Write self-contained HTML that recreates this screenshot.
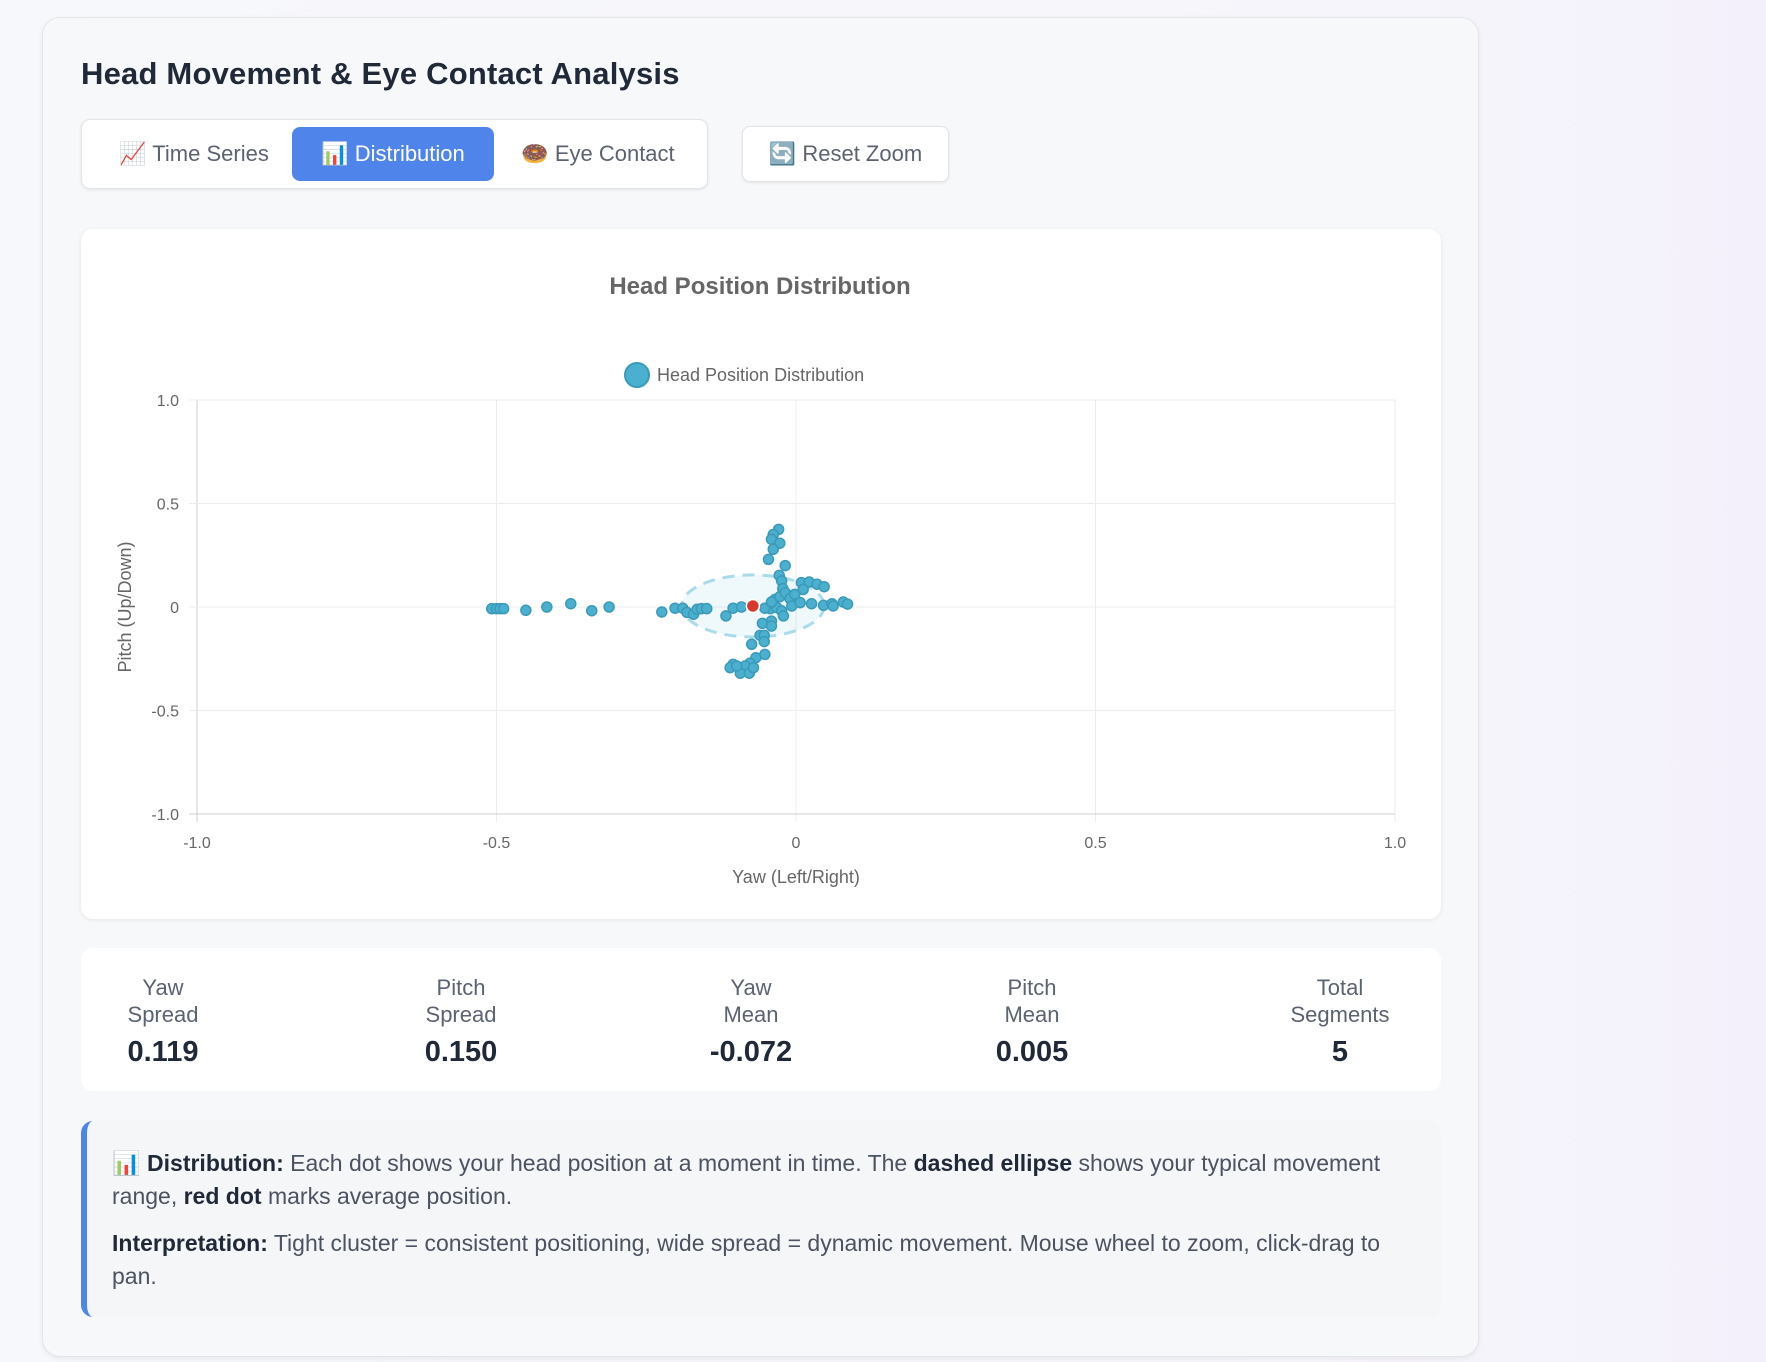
<!DOCTYPE html>
<html><head><meta charset="utf-8">
<style>
*{box-sizing:border-box;margin:0;padding:0}
body{width:1766px;height:1362px;background:linear-gradient(90deg,#f7f8fb 0%,#f6f5fb 80%,#f3f0fb 100%);font-family:"Liberation Sans","Noto Sans CJK SC",sans-serif;position:relative;overflow:hidden}
.abs{position:absolute}
#card{left:42px;top:17px;width:1437px;height:1340px;background:#f7f8fa;border:1px solid #e3e5e9;border-radius:18px;box-shadow:0 2px 6px rgba(0,0,0,.06)}
#title{left:81px;top:56px;font-size:31px;font-weight:bold;color:#1f2937;letter-spacing:0.2px}
#tabs{left:81px;top:119px;width:627px;height:70px;background:#fff;border:1px solid #e2e4e8;border-radius:9px;box-shadow:0 1px 3px rgba(0,0,0,.08)}
.tab{position:absolute;top:7px;height:54px;line-height:54px;font-size:22px;color:#5b6270;text-align:center;border-radius:8px}
#reset{left:742px;top:126px;width:207px;height:56px;background:#fff;border:1px solid #e2e4e8;border-radius:8px;box-shadow:0 1px 3px rgba(0,0,0,.08);line-height:54px;text-align:center;font-size:22px;color:#5b6270}
#chartcard{left:81px;top:229px;width:1360px;height:690px;background:#fff;border-radius:12px;box-shadow:0 1px 4px rgba(0,0,0,.08)}
#stats{left:81px;top:948px;width:1360px;height:143px;background:#fff;border-radius:12px}
.st{position:absolute;top:26px;width:200px;margin-left:-100px;text-align:center}
.sl{font-size:22px;color:#5b6270;line-height:27px}
.sv{font-size:29px;font-weight:bold;color:#1f2937;margin-top:8px}
#info{left:81px;top:1121px;width:1360px;height:196px;background:#f5f6f8;border-left:6px solid #4f84ea;border-radius:12px;padding:26px 24px 0 25px;font-size:23px;color:#4b5260;line-height:33px}
#info b{color:#1f2937}
</style></head><body>
<div id="card" class="abs"></div>
<div id="title" class="abs">Head Movement &amp; Eye Contact Analysis</div>
<div id="tabs" class="abs">
 <div class="tab" style="left:14px;width:196px">📈 Time Series</div>
 <div class="tab" style="left:210px;width:202px;background:#4f84ea;color:#fff">📊 Distribution</div>
 <div class="tab" style="left:418px;width:196px">🍩 Eye Contact</div>
</div>
<div id="reset" class="abs">🔄 Reset Zoom</div>
<div id="chartcard" class="abs"></div>
<svg class="abs" style="left:0;top:0" width="1766" height="1362" id="chart" font-family="Liberation Sans, sans-serif"></svg>
<div id="stats" class="abs">
 <div class="st" style="left:82px"><div class="sl">Yaw<br>Spread</div><div class="sv">0.119</div></div>
 <div class="st" style="left:380px"><div class="sl">Pitch<br>Spread</div><div class="sv">0.150</div></div>
 <div class="st" style="left:670px"><div class="sl">Yaw<br>Mean</div><div class="sv">-0.072</div></div>
 <div class="st" style="left:951px"><div class="sl">Pitch<br>Mean</div><div class="sv">0.005</div></div>
 <div class="st" style="left:1259px"><div class="sl">Total<br>Segments</div><div class="sv">5</div></div>
</div>
<div id="info" class="abs">
 <p style="margin-bottom:14px">📊 <b>Distribution:</b> Each dot shows your head position at a moment in time. The <b>dashed ellipse</b> shows your typical movement range, <b>red dot</b> marks average position.</p>
 <p><b>Interpretation:</b> Tight cluster = consistent positioning, wide spread = dynamic movement. Mouse wheel to zoom, click-drag to pan.</p>
</div>
<script>
const yawValues=[-0.508,-0.5,-0.494,-0.488,-0.451,-0.416,-0.376,-0.341,-0.312,-0.224,-0.202,-0.189,-0.182,-0.171,-0.165,-0.158,-0.149,-0.117,-0.105,-0.091,
-0.029,-0.038,-0.041,-0.027,-0.038,-0.046,-0.018,-0.028,-0.024,-0.022,
-0.035,-0.027,-0.018,-0.010,-0.002,-0.043,-0.032,-0.024,-0.021,-0.007,0.007,0.009,0.022,0.035,0.047,0.012,0.026,0.046,0.06,0.062,0.079,0.086,-0.052,-0.041,
-0.041,-0.056,-0.041,-0.06,-0.053,-0.053,-0.074,-0.052,-0.067,-0.077,-0.105,-0.11,-0.093,-0.085,-0.093,-0.078,-0.099,-0.071];
const pitchValues=[-0.008,-0.008,-0.008,-0.008,-0.016,0,0.016,-0.018,0,-0.024,-0.006,-0.006,-0.026,-0.035,-0.011,-0.008,-0.008,-0.043,-0.006,0,
0.375,0.35,0.327,0.308,0.279,0.23,0.2,0.153,0.126,0.089,
0.037,0.05,0.069,0.04,0.061,-0.008,-0.003,-0.019,-0.043,0.005,0.021,0.118,0.121,0.11,0.098,0.085,0.016,0.008,0.016,0.005,0.024,0.014,-0.006,0.024,
-0.068,-0.079,-0.092,-0.137,-0.137,-0.167,-0.18,-0.229,-0.245,-0.272,-0.277,-0.293,-0.298,-0.285,-0.32,-0.32,-0.285,-0.293];
const meanPoint=[-0.072,0.005];
const spread=[0.119,0.150];
const xTicks=[-1,-0.5,0,0.5,1];
const yTicks=[1,0.5,0,-0.5,-1];
const xTickLabels=["-1.0","-0.5","0","0.5","1.0"];
const yTickLabels=["1.0","0.5","0","-0.5","-1.0"];

const svg=document.getElementById('chart');
const NS='http://www.w3.org/2000/svg';
const L=197,R=1395,T=400,B=814;
const xs=v=>L+(v+1)/2*(R-L);
const ys=v=>B-(v+1)/2*(B-T);
function mk(tag,at){const e=document.createElementNS(NS,tag);for(const k in at)e.setAttribute(k,at[k]);svg.appendChild(e);return e;}
xTicks.forEach((t,i)=>{
 const g=mk('line',{x1:xs(t),x2:xs(t),y1:T,y2:B+8,stroke:i==0?'#cfcfcf':'#ececec','stroke-width':1});
 
 
 const tx=mk('text',{x:xs(t),y:848,'text-anchor':'middle','font-size':16,fill:'#666'});tx.textContent=xTickLabels[i];
 
 
});
yTicks.forEach((t,i)=>{
 const g=mk('line',{x1:L-8,x2:R,y1:ys(t),y2:ys(t),stroke:i==4?'#cfcfcf':'#ececec','stroke-width':1});
 
 
 const tx=mk('text',{x:L-18,y:ys(t)+6,'text-anchor':'end','font-size':16,fill:'#666'});tx.textContent=yTickLabels[i];
 
 
});
let e;
e=mk('text',{x:760,y:294,'text-anchor':'middle','font-size':24,'font-weight':'bold',fill:'#666'});e.textContent='Head Position Distribution';


e=mk('circle',{cx:637,cy:375,r:12,fill:'#4bb0cf',stroke:'#3a9ab8','stroke-width':2});


e=mk('text',{x:657,y:381,'font-size':18,fill:'#666'});e.textContent='Head Position Distribution';


e=mk('text',{x:796,y:883,'text-anchor':'middle','font-size':18,fill:'#666'});e.textContent='Yaw (Left/Right)';


e=mk('text',{x:131,y:607,'text-anchor':'middle','font-size':18,fill:'#666',transform:'rotate(-90 131 607)'});e.textContent='Pitch (Up/Down)';


e=mk('ellipse',{cx:xs(meanPoint[0]),cy:ys(meanPoint[1]),rx:xs(spread[0])-xs(0),ry:ys(0)-ys(spread[1]),fill:'rgba(75,176,207,0.09)',stroke:'#a9dbe9','stroke-width':3,'stroke-dasharray':'12 8'});


yawValues.forEach((v,i)=>{
 const c=mk('circle',{cx:xs(v),cy:ys(pitchValues[i]),r:5,fill:'#4bb0cf',stroke:'#3a9ab8','stroke-width':1.5});
 
 
});
e=mk('circle',{cx:xs(meanPoint[0]),cy:ys(meanPoint[1]),r:6.5,fill:'#d63a2f',stroke:'#fff','stroke-width':1.5});


</script>
</body></html>
